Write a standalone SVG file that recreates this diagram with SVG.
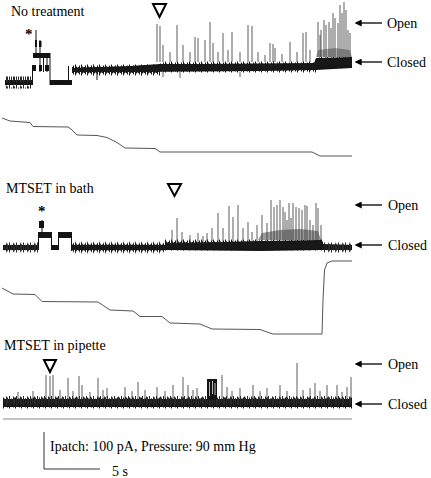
<svg xmlns="http://www.w3.org/2000/svg" width="431" height="478" viewBox="0 0 431 478" font-family="Liberation Serif, Times New Roman, serif">
<style>
text{font-family:"Liberation Serif","Times New Roman",serif;font-size:14px;fill:#000}
.ast{font-size:15px;font-weight:bold;fill:#000}
.tri{fill:none;stroke:#000;stroke-width:2;stroke-linejoin:miter}
.blk{fill:#141414}
.spk{fill:none;stroke:#333;stroke-width:0.8}
.vl{fill:none;stroke:#111;stroke-width:1}
.pr{fill:none;stroke:#555;stroke-width:1}
.arr{fill:none;stroke:#000;stroke-width:1.3;marker-start:url(#ah)}
</style>
<defs>
<marker id="ah" viewBox="0 0 10 10" refX="1" refY="5" markerWidth="7" markerHeight="7" markerUnits="userSpaceOnUse" orient="auto-start-reverse">
<path d="M0,5 L10,0 L10,10 Z" fill="#000" transform="rotate(180 5 5)"/>
</marker>
<pattern id="fz" width="6" height="12" patternUnits="userSpaceOnUse">
<path d="M0.5 3V9M1.5 1.5V10.5M2.5 4V8M3.5 0.5V11.5M4.5 2.5V9.5M5.5 3.5V8.5" stroke="#181818" stroke-width="1"/>
</pattern>
<pattern id="fz2" width="7" height="12" patternUnits="userSpaceOnUse">
<path d="M0.5 2.5V9.5M2.5 1V11M4.5 3.5V8.5M6.5 1.5V10.5" stroke="#2a2a2a" stroke-width="1"/>
</pattern>
</defs>

<g id="panel1">
<text x="11" y="16">No treatment</text>
<text class="ast" x="25" y="39">*</text>
<polygon class="tri" points="153,4 166,4 159.5,17"/>
<g id="trace1">
<rect x="5" y="80" width="27" height="5" class="blk"/>
<rect x="5" y="76.5" width="27" height="12" fill="url(#fz2)"/>
<rect x="50" y="80" width="22" height="5" class="blk"/>
<rect x="33" y="53" width="17" height="5" class="blk"/>
<rect x="33" y="65" width="3" height="6" class="blk"/>
<rect x="39" y="65" width="3" height="6" class="blk"/>
<rect x="45" y="65" width="4" height="6" class="blk"/>
<rect x="35" y="40" width="2" height="7" class="blk"/>
<rect x="39" y="41" width="2.5" height="6" class="blk"/>
<path class="vl" d="M32.5 85V65M36 30V58M40 40V72M43.5 53V72M47 53V72M50 53V85M68.5 82V66M97 72V80"/>
<path class="blk" d="M72,68 L100,67 L130,66 L160,64 L200,64 L260,63.5 L314,63 L316,58 L352,57 L352,68 L316,70 L260,71 L200,71.5 L130,72 L72,72 Z"/>
<rect x="72" y="0" width="88" height="12" fill="url(#fz)" transform="translate(0,64)"/>
<rect x="160" y="0" width="156" height="12" fill="url(#fz)" transform="translate(0,61)"/>
<rect x="316" y="0" width="36" height="12" fill="url(#fz)" transform="translate(0,56)"/>
<path d="M316,57 L318,50 L335,48 L350,50 L352,57 Z" fill="#aaa"/>
<path class="spk" d="M157 62V24M160 62V26M163 62V45M170 62V52M177 62V25M183 62V45M190 62V52M195 62V37M198 62V38M205 62V40M210 62V22M213 62V43M218 62V52M223 62V33M228 62V50M232 62V32M240 62V52M248 62V25M252 62V26M258 62V52M265 62V55M270 62V43M273 62V44M275 62V48M282 62V54M290 62V42M297 62V52M303 62V33M306 62V32M310 62V50M318 57V22M320 57V35M321 57V30M324 57V20M326 57V25M329 57V22M331 57V28M333 57V13M335 57V18M338 57V23M340 57V5M342 57V13M344 57V2M346 57V10M348 57V30M350 57V33M163 72V77M180 72V78M240 72V77"/>
</g>
<path id="pressure1" class="pr" d="M2,118 L10,121 L30,122.5 L33,126.5 L68,127 L71,129 L77,135 L97,135.5 L107,137.5 L117,142.5 L125,148 L155,148.5 L160,152 L312,152 L320,156 L352,156"/>
</g>

<g id="panel2">
<text x="6" y="193">MTSET in bath</text>
<text class="ast" x="38" y="216">*</text>
<polygon class="tri" points="168,184 181,184 174.5,196"/>
<g id="trace2">
<rect x="3" y="245" width="35" height="5" class="blk"/>
<rect x="52" y="245" width="6" height="5" class="blk"/>
<rect x="39" y="221" width="5" height="7" class="blk"/>
<rect x="38" y="232" width="14" height="6" class="blk"/>
<rect x="58" y="232" width="14" height="6" class="blk"/>
<path class="vl" d="M38.5 232V250M42 220V238M51.5 232V250M58.5 232V250M71.5 232V251"/>
<rect x="3" y="0" width="35" height="12" fill="url(#fz2)" transform="translate(0,241.5)"/>
<path class="blk" d="M72,245 L165,245 L180,243 L220,242 L260,241 L321,240 L323,244 L352,245 L352,250 L323,250 L260,251 L165,250 L72,250 Z"/>
<rect x="72" y="0" width="93" height="12" fill="url(#fz)" transform="translate(0,241.5)"/>
<rect x="165" y="0" width="158" height="12" fill="url(#fz)" transform="translate(0,239)"/>
<rect x="323" y="0" width="29" height="12" fill="url(#fz2)" transform="translate(0,241.5)"/>
<path d="M258,240 L262,233 L280,230 L300,229 L318,231 L321,240 Z" fill="#999"/>
<path class="spk" d="M172 244V230M177 244V218M182 244V232M190 244V235M198 244V233M203 244V236M207 243V233M212 243V228M218 243V213M223 242V228M229 242V206M233 242V217M238 242V205M243 242V228M248 242V222M252 242V232M257 241V225M262 241V215M267 241V223M271 240V200M274 240V207M277 240V205M280 240V200M283 240V207M285 240V212M287 240V220M289 240V203M291 240V218M293 240V203M296 240V207M299 240V208M302 240V210M305 240V205M307 240V206M310 240V220M313 240V225M316 240V203M318 240V208M321 240V225"/>
</g>
<path id="pressure2" class="pr" d="M2,288 L13,294 L35,294.5 L42,301.5 L98,302 L110,310 L133,311 L140,316.5 L162,316.5 L170,323 L200,324 L212,329 L260,329.5 L273,334 L322,334 L323,300 L324.5,270 L327,263 L332,261 L352,261"/>
</g>

<g id="panel3">
<text x="4" y="350">MTSET in pipette</text>
<polygon class="tri" points="44,360 56,360 50,372"/>
<g id="trace3">
<rect x="3" y="399" width="349" height="8" class="blk"/>
<rect x="3" y="0" width="349" height="12" fill="url(#fz)" transform="translate(0,397)"/>
<rect x="3" y="0" width="349" height="12" fill="url(#fz2)" transform="translate(0,395)"/>
<rect x="207" y="379" width="10" height="21" class="blk"/>
<path d="M209.5 382V396M212.5 381V394M215 383V395" stroke="#fff" stroke-width="0.7"/>
<path class="spk" d="M18 399V392M33 399V391M46 399V375M50 399V376M53 399V375M60 399V390M68 399V378M73 399V391M79 399V376M82 399V385M90 399V392M98 399V378M103 399V390M107 399V388M125 399V387M132 399V391M138 399V382M145 399V390M157 399V387M165 399V391M173 399V385M183 399V377M188 399V385M193 399V390M197 399V388M222 399V375M227 399V387M232 399V391M240 399V388M253 399V385M260 399V391M267 399V388M280 399V385M287 399V391M297 399V363M303 399V390M310 399V388M315 399V383M320 399V391M327 399V385M337 399V385M342 399V392M347 399V387M351 399V377"/>
</g>
<path id="baseline3" d="M3,419 H352" stroke="#888" stroke-width="1.2" fill="none"/>
</g>

<g id="connectors">
<path class="arr" d="M361,23 H382"/>
<path class="arr" d="M361,62 H382"/>
<path class="arr" d="M361,205 H382"/>
<path class="arr" d="M361,245 H382"/>
<path class="arr" d="M361,364 H382"/>
<path class="arr" d="M361,404 H382"/>
</g>

<g id="state-labels">
<text x="387" y="28">Open</text>
<text x="387" y="67">Closed</text>
<text x="388" y="210">Open</text>
<text x="388" y="250">Closed</text>
<text x="388" y="369">Open</text>
<text x="388" y="409">Closed</text>
</g>

<g id="scalebar">
<path d="M44,432 V469 H100" stroke="#333" stroke-width="1" fill="none"/>
<text x="50" y="451">Ipatch: 100 pA, Pressure: 90 mm Hg</text>
<text x="112" y="476">5 s</text>
</g>
</svg>
